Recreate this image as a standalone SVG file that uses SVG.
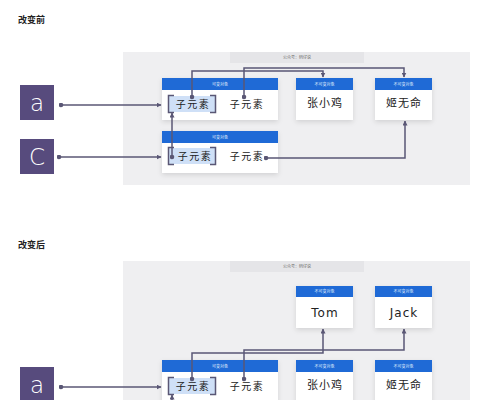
<svg xmlns="http://www.w3.org/2000/svg" width="500" height="400" viewBox="0 0 500 400">
<defs>
<filter id="sh" x="-20%" y="-20%" width="140%" height="150%">
<feDropShadow dx="0" dy="2" stdDeviation="2.5" flood-color="#000" flood-opacity="0.12"/>
</filter>
<marker id="ah" viewBox="0 0 10 10" refX="9" refY="5" markerWidth="5" markerHeight="5" orient="auto-start-reverse" markerUnits="userSpaceOnUse">
<path d="M0,0 L10,5 L0,10 z" fill="#5a5775"/>
</marker>
<marker id="dot" viewBox="0 0 10 10" refX="5" refY="5" markerWidth="5" markerHeight="5" markerUnits="userSpaceOnUse">
<circle cx="5" cy="5" r="4.5" fill="#5a5775"/>
</marker>
</defs>
<style>
.title{font-family:"Noto Sans CJK SC","Liberation Serif",serif;font-size:9px;font-weight:bold;fill:#222}
.panel{fill:#efeff1}
.band{fill:#e5e5e8}
.bandt{font-family:"Noto Sans CJK SC",sans-serif;font-size:4px;fill:#666;text-anchor:middle}
.var{fill:#574b7d}
.vart{font-family:"DejaVu Sans","Liberation Sans",sans-serif;font-size:23px;font-weight:300;fill:#fff;text-anchor:middle}
.card{fill:#fff;filter:url(#sh)}
.hdr{fill:#1f6ad6}
.hdrt{font-family:"Noto Sans CJK SC",sans-serif;font-size:4px;fill:#dfe9fb;text-anchor:middle}
.hl{fill:#cfe0f7}
.br{fill:none;stroke:#5a5775;stroke-width:1.5}
.sub{font-family:"Noto Sans CJK SC",serif;font-size:10px;letter-spacing:1.5px;fill:#222;text-anchor:middle}
.val{font-family:"Noto Sans CJK SC",serif;font-size:11px;letter-spacing:1px;fill:#222;text-anchor:middle}
.valen{font-family:"DejaVu Sans","Noto Sans",sans-serif;font-size:12px;letter-spacing:1px;fill:#222;text-anchor:middle}
.cn{fill:none;stroke:#5a5775;stroke-width:1.5}
</style>

<text class="title" x="18" y="23">改变前</text>
<rect class="panel" x="123" y="52" width="347" height="133"/>
<rect class="band" x="230" y="52" width="134" height="11"/>
<text class="bandt" x="297" y="59">公众号：码仔说</text>

<g id="var-a-before">
<rect class="var" x="20" y="85" width="34" height="35"/>
<text class="vart" x="37" y="111">a</text>
</g>
<g id="var-c-before">
<rect class="var" x="20" y="139" width="34" height="35"/>
<text class="vart" x="37" y="165">C</text>
</g>

<g id="list-a-before">
<rect class="card" x="162" y="78" width="116" height="42"/>
<rect class="hdr" x="162" y="78" width="116" height="12"/>
<text class="hdrt" x="220" y="85.5">可变对象</text>
<rect class="hl" x="168" y="96" width="48" height="16"/>
<path class="br" d="M174,95.5 H168.5 V112.5 H174 M210,95.5 H215.5 V112.5 H210"/>
<text class="sub" x="193" y="108">子元素</text>
<text class="sub" x="247" y="108">子元素</text>
</g>

<g id="list-c-before">
<rect class="card" x="162" y="131" width="116" height="42"/>
<rect class="hdr" x="162" y="131" width="116" height="12"/>
<text class="hdrt" x="220" y="138.5">可变对象</text>
<rect class="hl" x="168" y="148" width="48" height="16"/>
<path class="br" d="M174,147.5 H168.5 V164.5 H174 M210,147.5 H215.5 V164.5 H210"/>
<text class="sub" x="195" y="160">子元素</text>
<text class="sub" x="247" y="160">子元素</text>
</g>

<g id="str-zhang-before">
<rect class="card" x="296" y="78" width="57" height="42"/>
<rect class="hdr" x="296" y="78" width="57" height="12"/>
<text class="hdrt" x="324.5" y="85.5">不可变对象</text>
<text class="val" x="325" y="107">张小鸡</text>
</g>
<g id="str-ji-before">
<rect class="card" x="375" y="78" width="57" height="42"/>
<rect class="hdr" x="375" y="78" width="57" height="12"/>
<text class="hdrt" x="403.5" y="85.5">不可变对象</text>
<text class="val" x="404" y="107">姬无命</text>
</g>

<text class="title" x="18" y="248">改变后</text>
<rect class="panel" x="123" y="261" width="347" height="139"/>
<rect class="band" x="230" y="261" width="134" height="11"/>
<text class="bandt" x="297" y="268">公众号：码仔说</text>

<g id="var-a-after">
<rect class="var" x="20" y="367" width="34" height="35"/>
<text class="vart" x="37" y="393">a</text>
</g>

<g id="str-tom">
<rect class="card" x="296" y="286" width="57" height="42"/>
<rect class="hdr" x="296" y="286" width="57" height="11"/>
<text class="hdrt" x="324.5" y="293">不可变对象</text>
<text class="valen" x="325" y="317">Tom</text>
</g>
<g id="str-jack">
<rect class="card" x="375" y="286" width="57" height="42"/>
<rect class="hdr" x="375" y="286" width="57" height="11"/>
<text class="hdrt" x="403.5" y="293">不可变对象</text>
<text class="valen" x="404" y="317">Jack</text>
</g>

<g id="list-a-after">
<rect class="card" x="162" y="360" width="116" height="45"/>
<rect class="hdr" x="162" y="360" width="116" height="12"/>
<text class="hdrt" x="220" y="367.5">可变对象</text>
<rect class="hl" x="168" y="378" width="48" height="16"/>
<path class="br" d="M174,377.5 H168.5 V394.5 H174 M210,377.5 H215.5 V394.5 H210"/>
<text class="sub" x="193" y="390">子元素</text>
<text class="sub" x="247" y="390">子元素</text>
</g>
<g id="str-zhang-after">
<rect class="card" x="296" y="360" width="57" height="45"/>
<rect class="hdr" x="296" y="360" width="57" height="12"/>
<text class="hdrt" x="324.5" y="367.5">不可变对象</text>
<text class="val" x="325" y="389">张小鸡</text>
</g>
<g id="str-ji-after">
<rect class="card" x="375" y="360" width="57" height="45"/>
<rect class="hdr" x="375" y="360" width="57" height="12"/>
<text class="hdrt" x="403.5" y="367.5">不可变对象</text>
<text class="val" x="404" y="389">姬无命</text>
</g>

<g id="connectors">
<path class="cn" d="M61,105 H161" marker-start="url(#dot)" marker-end="url(#ah)"/>
<path class="cn" d="M59,157 H161" marker-start="url(#dot)" marker-end="url(#ah)"/>
<path class="cn" d="M172,157 V113" marker-start="url(#dot)" marker-end="url(#ah)"/>
<path class="cn" d="M192,97 V71 H323 V77" marker-start="url(#dot)" marker-end="url(#ah)"/>
<path class="cn" d="M244,97 V68 H404 V77" marker-start="url(#dot)" marker-end="url(#ah)"/>
<path class="cn" d="M266,158 H405 V121" marker-start="url(#dot)" marker-end="url(#ah)"/>
<path class="cn" d="M61,387 H161" marker-start="url(#dot)" marker-end="url(#ah)"/>
<path class="cn" d="M172,402 V395" marker-end="url(#ah)"/>
<path class="cn" d="M192,379 V353 H323 V329" marker-start="url(#dot)" marker-end="url(#ah)"/>
<path class="cn" d="M244,379 V350 H404 V329" marker-start="url(#dot)" marker-end="url(#ah)"/>
</g>
</svg>
